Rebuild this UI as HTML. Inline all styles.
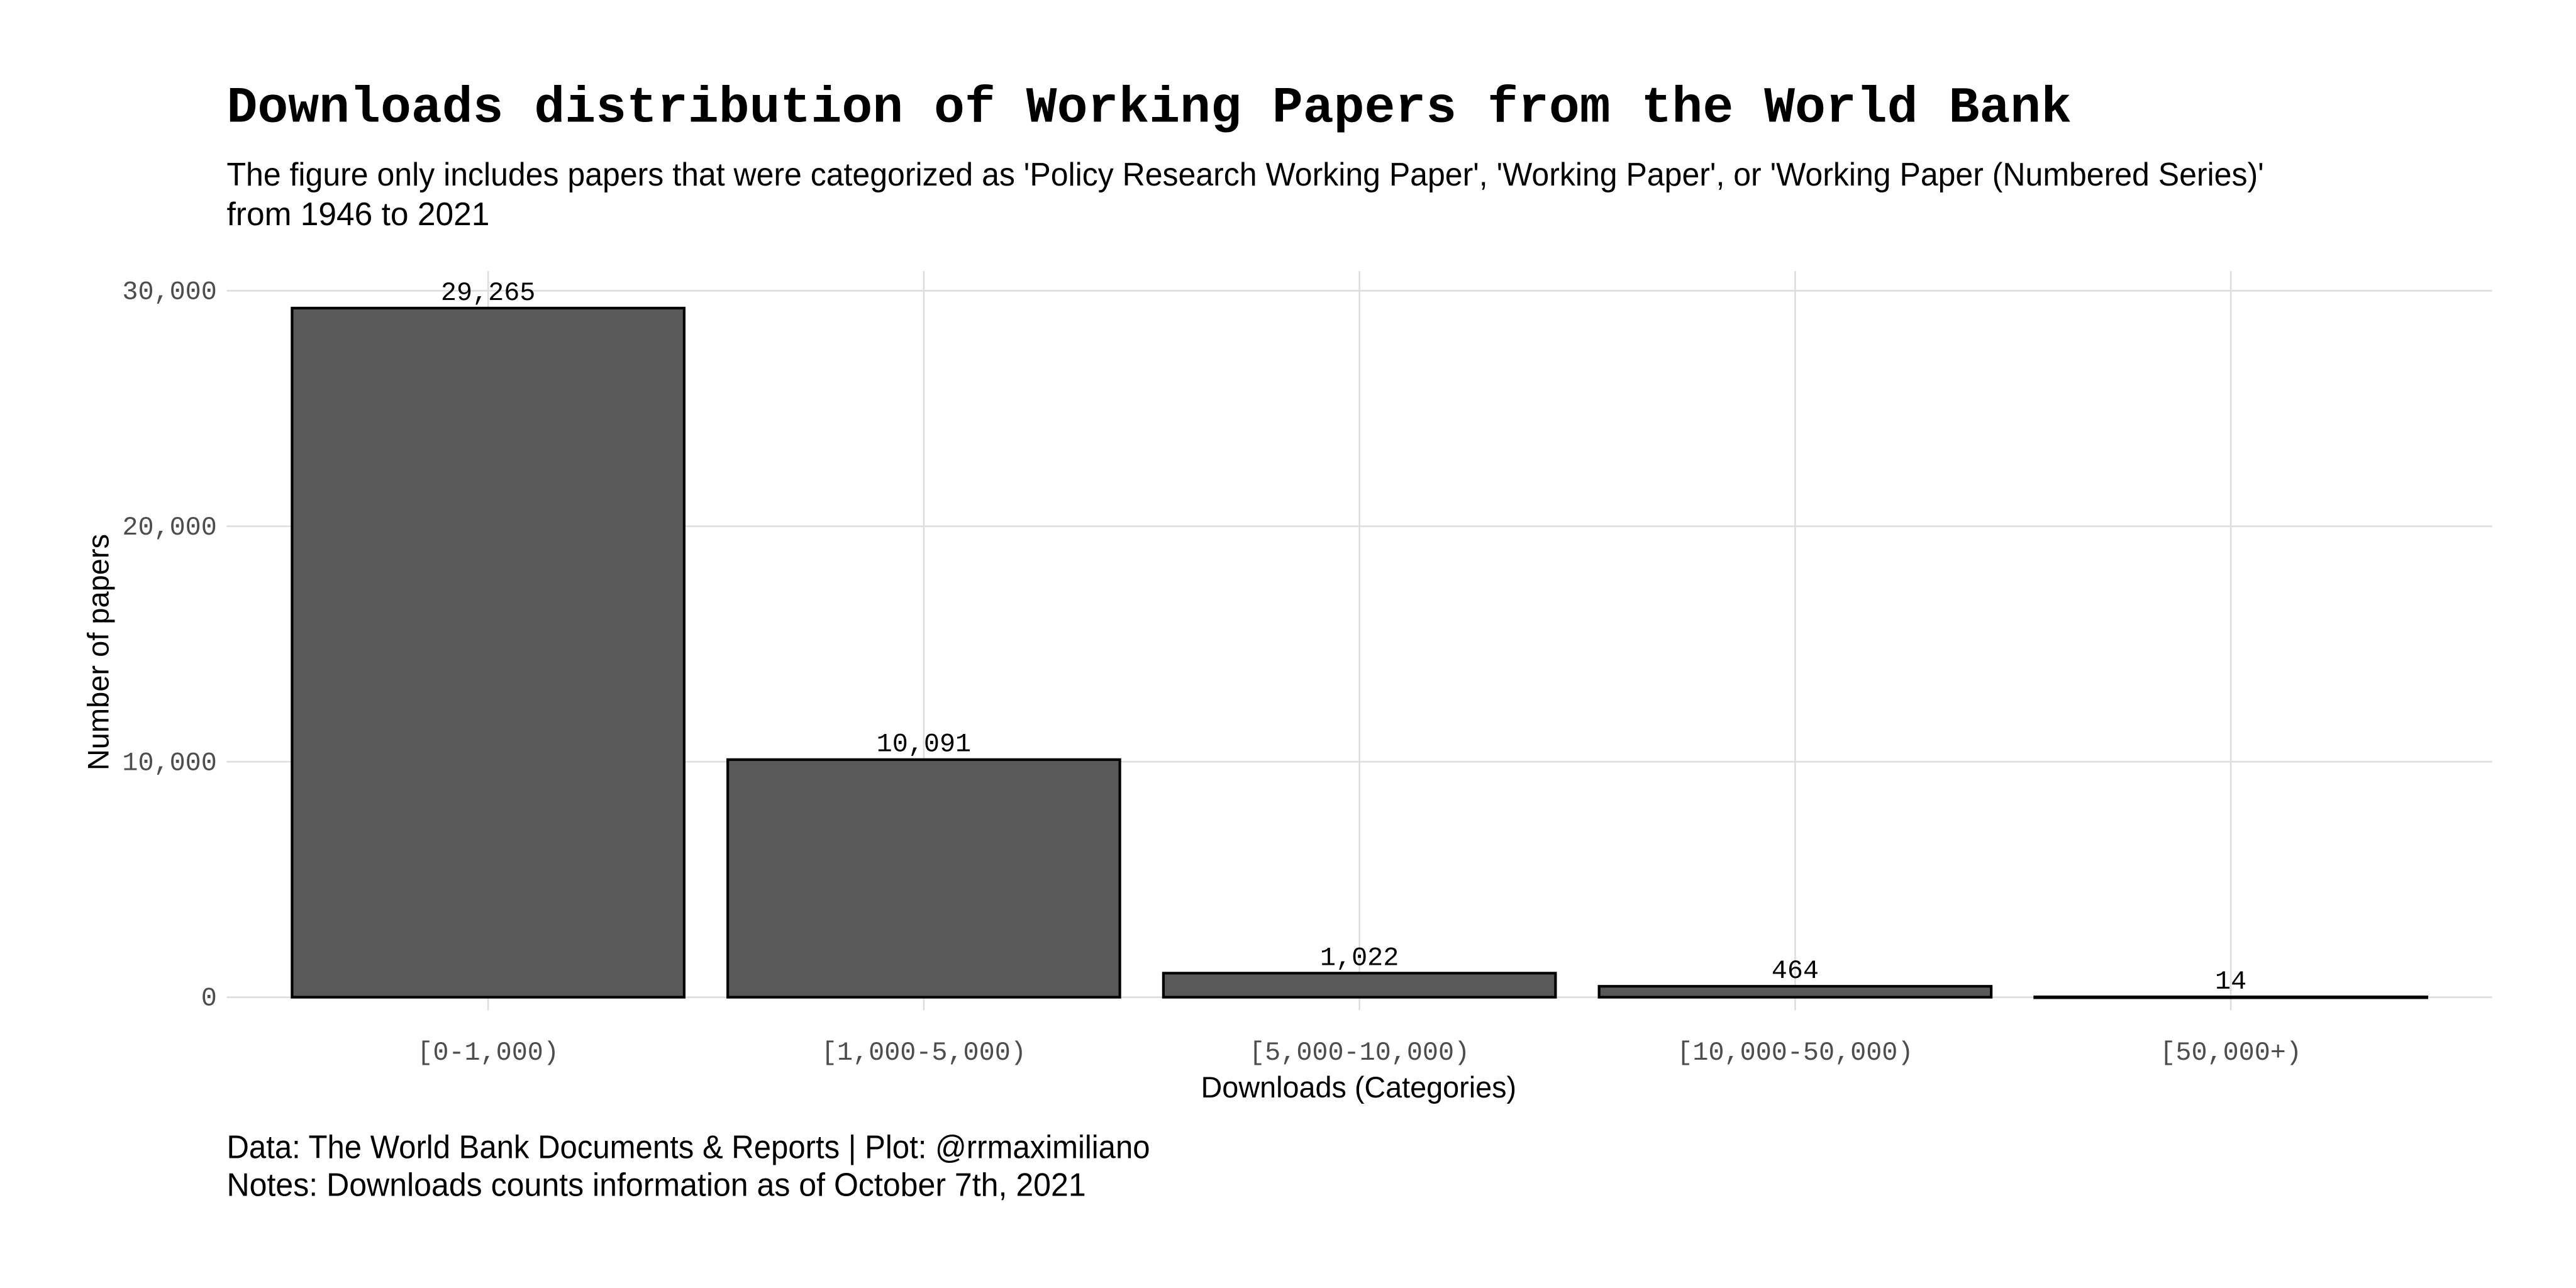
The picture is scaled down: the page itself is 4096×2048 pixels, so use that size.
<!DOCTYPE html>
<html><head><meta charset="utf-8"><style>
html,body{margin:0;padding:0;background:#fff;}
svg{display:block;}
.mono{font-family:"Liberation Mono","DejaVu Sans Mono",monospace;}
.sans{font-family:"Liberation Sans","DejaVu Sans",sans-serif;}
</style></head><body>
<svg id="chart" width="4096" height="2048" viewBox="0 0 1568 784" xmlns="http://www.w3.org/2000/svg">
<rect width="1568" height="784" fill="#fff"/>
<text class="mono" x="138" y="74" font-size="31" font-weight="bold" fill="#000" textLength="1123" lengthAdjust="spacingAndGlyphs">Downloads distribution of Working Papers from the World Bank</text>
<text class="sans" x="138" y="113" font-size="20" fill="#000" textLength="1240" lengthAdjust="spacingAndGlyphs">The figure only includes papers that were categorized as 'Policy Research Working Paper', 'Working Paper', or 'Working Paper (Numbered Series)'</text>
<text class="sans" x="138" y="137" font-size="20" fill="#000" textLength="160" lengthAdjust="spacingAndGlyphs">from 1946 to 2021</text>
<g id="grid"></g>
<g id="bars"></g>
<g id="labels"></g>
<g id="yticks"></g>
<g id="xticks"></g>
<text class="sans" x="827" y="668" font-size="18" text-anchor="middle" fill="#000" textLength="192" lengthAdjust="spacingAndGlyphs">Downloads (Categories)</text>
<text class="sans" transform="translate(66,397) rotate(-90)" font-size="18" text-anchor="middle" fill="#000" textLength="144" lengthAdjust="spacingAndGlyphs">Number of papers</text>
<text class="sans" x="138" y="705" font-size="20" fill="#000" textLength="562" lengthAdjust="spacingAndGlyphs">Data: The World Bank Documents &amp; Reports | Plot: @rrmaximiliano</text>
<text class="sans" x="138" y="728" font-size="20" fill="#000" textLength="523" lengthAdjust="spacingAndGlyphs">Notes: Downloads counts information as of October 7th, 2021</text>
</svg>
<script>
const categories = ["[0-1,000)", "[1,000-5,000)", "[5,000-10,000)", "[10,000-50,000)", "[50,000+)"];
const counts = [29265, 10091, 1022, 464, 14];
const yTicks = [0, 10000, 20000, 30000];

const NS = "http://www.w3.org/2000/svg";
const plotL = 138, plotR = 1517, y0 = 607, y30 = 177, plotTop = 165;
const yScale = v => y0 - (v / 30000) * (y0 - y30);
const step = (plotR - plotL) / (categories.length + 0.2);
const xScale = i => plotL + step * 0.6 + step * i;
const bw = step * 0.9;
const fmt = v => v.toLocaleString("en-US");
function mk(tag, attrs, parent){const e=document.createElementNS(NS,tag);for(const k in attrs)e.setAttribute(k,attrs[k]);parent.appendChild(e);return e;}
const grid=document.getElementById("grid"),bars=document.getElementById("bars"),labels=document.getElementById("labels"),yt=document.getElementById("yticks"),xt=document.getElementById("xticks");
yTicks.forEach(t=>{
  const l=mk("line",{x1:plotL,x2:plotR,y1:yScale(t),y2:yScale(t),stroke:"#dedede","stroke-width":1},grid);
  
  
  const tx=mk("text",{x:132,y:yScale(t)+5,"font-size":16,"text-anchor":"end",fill:"#4d4d4d",class:"mono"},yt);
  tx.textContent=fmt(t);
  
  
});
categories.forEach((c,i)=>{
  const gl=mk("line",{x1:xScale(i),x2:xScale(i),y1:plotTop,y2:y0+8,stroke:"#dedede","stroke-width":1},grid);
  
  
  const r=mk("rect",{x:xScale(i)-bw/2,y:yScale(counts[i]),width:bw,height:Math.max(y0-yScale(counts[i]),0.5),fill:"#595959",stroke:"#000","stroke-width":1.6},bars);
  
  
  const lb=mk("text",{x:xScale(i),y:yScale(counts[i])-5,"font-size":16,"text-anchor":"middle",fill:"#000",class:"mono"},labels);
  lb.textContent=fmt(counts[i]);
  
  
  const xl=mk("text",{x:xScale(i),y:645,"font-size":16,"text-anchor":"middle",fill:"#4d4d4d",class:"mono"},xt);
  xl.textContent=c;
  
  
});
</script>
</body></html>
